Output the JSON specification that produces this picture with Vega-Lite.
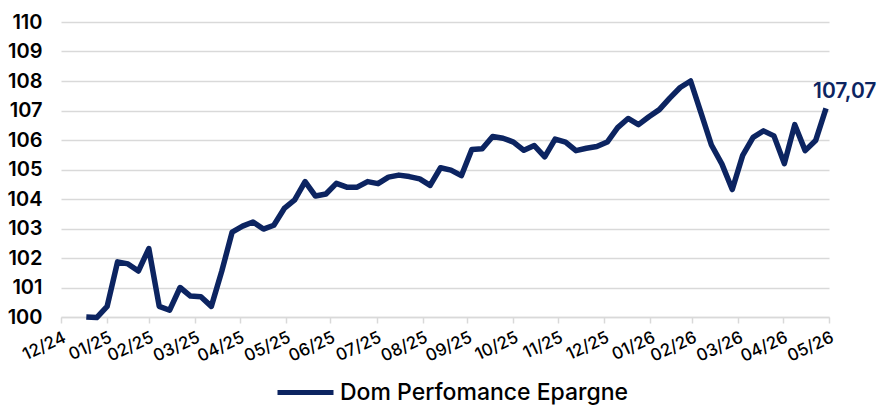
{
  "$schema": "https://vega.github.io/schema/vega-lite/v6.json",
  "width": 768,
  "height": 295,
  "autosize": {"type": "none"},
  "padding": {"left": 61, "top": 22, "right": 50, "bottom": 89},
  "background": "white",
  "config": {
    "view": {"stroke": null},
    "font": "Inter",
    "axis": {"labelFont": "Inter", "labelColor": "#000000"}
  },
  "data": {
    "values": [
      {"date": "2025-01-17", "value": 100.00, "series": "Dom Perfomance Epargne"},
      {"date": "2025-01-24", "value": 99.98, "series": "Dom Perfomance Epargne"},
      {"date": "2025-01-31", "value": 100.36, "series": "Dom Perfomance Epargne"},
      {"date": "2025-02-07", "value": 101.87, "series": "Dom Perfomance Epargne"},
      {"date": "2025-02-14", "value": 101.80, "series": "Dom Perfomance Epargne"},
      {"date": "2025-02-21", "value": 101.56, "series": "Dom Perfomance Epargne"},
      {"date": "2025-02-28", "value": 102.32, "series": "Dom Perfomance Epargne"},
      {"date": "2025-03-07", "value": 100.36, "series": "Dom Perfomance Epargne"},
      {"date": "2025-03-14", "value": 100.23, "series": "Dom Perfomance Epargne"},
      {"date": "2025-03-21", "value": 101.00, "series": "Dom Perfomance Epargne"},
      {"date": "2025-03-28", "value": 100.71, "series": "Dom Perfomance Epargne"},
      {"date": "2025-04-04", "value": 100.69, "series": "Dom Perfomance Epargne"},
      {"date": "2025-04-11", "value": 100.36, "series": "Dom Perfomance Epargne"},
      {"date": "2025-04-18", "value": 101.55, "series": "Dom Perfomance Epargne"},
      {"date": "2025-04-25", "value": 102.88, "series": "Dom Perfomance Epargne"},
      {"date": "2025-05-02", "value": 103.08, "series": "Dom Perfomance Epargne"},
      {"date": "2025-05-09", "value": 103.22, "series": "Dom Perfomance Epargne"},
      {"date": "2025-05-16", "value": 102.98, "series": "Dom Perfomance Epargne"},
      {"date": "2025-05-23", "value": 103.11, "series": "Dom Perfomance Epargne"},
      {"date": "2025-05-30", "value": 103.68, "series": "Dom Perfomance Epargne"},
      {"date": "2025-06-06", "value": 103.97, "series": "Dom Perfomance Epargne"},
      {"date": "2025-06-13", "value": 104.59, "series": "Dom Perfomance Epargne"},
      {"date": "2025-06-20", "value": 104.10, "series": "Dom Perfomance Epargne"},
      {"date": "2025-06-27", "value": 104.17, "series": "Dom Perfomance Epargne"},
      {"date": "2025-07-04", "value": 104.53, "series": "Dom Perfomance Epargne"},
      {"date": "2025-07-11", "value": 104.40, "series": "Dom Perfomance Epargne"},
      {"date": "2025-07-18", "value": 104.40, "series": "Dom Perfomance Epargne"},
      {"date": "2025-07-25", "value": 104.59, "series": "Dom Perfomance Epargne"},
      {"date": "2025-08-01", "value": 104.52, "series": "Dom Perfomance Epargne"},
      {"date": "2025-08-08", "value": 104.74, "series": "Dom Perfomance Epargne"},
      {"date": "2025-08-15", "value": 104.81, "series": "Dom Perfomance Epargne"},
      {"date": "2025-08-22", "value": 104.76, "series": "Dom Perfomance Epargne"},
      {"date": "2025-08-29", "value": 104.68, "series": "Dom Perfomance Epargne"},
      {"date": "2025-09-05", "value": 104.46, "series": "Dom Perfomance Epargne"},
      {"date": "2025-09-12", "value": 105.06, "series": "Dom Perfomance Epargne"},
      {"date": "2025-09-19", "value": 104.98, "series": "Dom Perfomance Epargne"},
      {"date": "2025-09-26", "value": 104.79, "series": "Dom Perfomance Epargne"},
      {"date": "2025-10-03", "value": 105.68, "series": "Dom Perfomance Epargne"},
      {"date": "2025-10-10", "value": 105.70, "series": "Dom Perfomance Epargne"},
      {"date": "2025-10-17", "value": 106.12, "series": "Dom Perfomance Epargne"},
      {"date": "2025-10-24", "value": 106.06, "series": "Dom Perfomance Epargne"},
      {"date": "2025-10-31", "value": 105.93, "series": "Dom Perfomance Epargne"},
      {"date": "2025-11-07", "value": 105.65, "series": "Dom Perfomance Epargne"},
      {"date": "2025-11-14", "value": 105.81, "series": "Dom Perfomance Epargne"},
      {"date": "2025-11-21", "value": 105.43, "series": "Dom Perfomance Epargne"},
      {"date": "2025-11-28", "value": 106.03, "series": "Dom Perfomance Epargne"},
      {"date": "2025-12-05", "value": 105.93, "series": "Dom Perfomance Epargne"},
      {"date": "2025-12-12", "value": 105.64, "series": "Dom Perfomance Epargne"},
      {"date": "2025-12-19", "value": 105.72, "series": "Dom Perfomance Epargne"},
      {"date": "2025-12-26", "value": 105.78, "series": "Dom Perfomance Epargne"},
      {"date": "2026-01-02", "value": 105.93, "series": "Dom Perfomance Epargne"},
      {"date": "2026-01-09", "value": 106.42, "series": "Dom Perfomance Epargne"},
      {"date": "2026-01-16", "value": 106.73, "series": "Dom Perfomance Epargne"},
      {"date": "2026-01-23", "value": 106.52, "series": "Dom Perfomance Epargne"},
      {"date": "2026-01-30", "value": 106.79, "series": "Dom Perfomance Epargne"},
      {"date": "2026-02-06", "value": 107.03, "series": "Dom Perfomance Epargne"},
      {"date": "2026-02-13", "value": 107.42, "series": "Dom Perfomance Epargne"},
      {"date": "2026-02-20", "value": 107.78, "series": "Dom Perfomance Epargne"},
      {"date": "2026-02-27", "value": 108.00, "series": "Dom Perfomance Epargne"},
      {"date": "2026-03-06", "value": 106.92, "series": "Dom Perfomance Epargne"},
      {"date": "2026-03-13", "value": 105.83, "series": "Dom Perfomance Epargne"},
      {"date": "2026-03-20", "value": 105.19, "series": "Dom Perfomance Epargne"},
      {"date": "2026-03-27", "value": 104.32, "series": "Dom Perfomance Epargne"},
      {"date": "2026-04-03", "value": 105.48, "series": "Dom Perfomance Epargne"},
      {"date": "2026-04-10", "value": 106.09, "series": "Dom Perfomance Epargne"},
      {"date": "2026-04-17", "value": 106.31, "series": "Dom Perfomance Epargne"},
      {"date": "2026-04-24", "value": 106.14, "series": "Dom Perfomance Epargne"},
      {"date": "2026-05-01", "value": 105.20, "series": "Dom Perfomance Epargne"},
      {"date": "2026-05-08", "value": 106.52, "series": "Dom Perfomance Epargne"},
      {"date": "2026-05-15", "value": 105.64, "series": "Dom Perfomance Epargne"},
      {"date": "2026-05-22", "value": 105.98, "series": "Dom Perfomance Epargne"},
      {"date": "2026-05-29", "value": 107.07, "series": "Dom Perfomance Epargne", "label": "107,07"}
    ]
  },
  "encoding": {
    "x": {
      "field": "date",
      "type": "temporal",
      "scale": {
        "type": "utc",
        "domain": [
          {"year": 2024, "month": 12, "date": 31, "utc": true},
          {"year": 2026, "month": 5, "date": 31, "utc": true}
        ]
      },
      "axis": {
        "title": null,
        "grid": false,
        "values": [
          {"year": 2024, "month": 12, "date": 31, "utc": true},
          {"year": 2025, "month": 1, "date": 31, "utc": true},
          {"year": 2025, "month": 2, "date": 28, "utc": true},
          {"year": 2025, "month": 3, "date": 31, "utc": true},
          {"year": 2025, "month": 4, "date": 30, "utc": true},
          {"year": 2025, "month": 5, "date": 31, "utc": true},
          {"year": 2025, "month": 6, "date": 30, "utc": true},
          {"year": 2025, "month": 7, "date": 31, "utc": true},
          {"year": 2025, "month": 8, "date": 31, "utc": true},
          {"year": 2025, "month": 9, "date": 30, "utc": true},
          {"year": 2025, "month": 10, "date": 31, "utc": true},
          {"year": 2025, "month": 11, "date": 30, "utc": true},
          {"year": 2025, "month": 12, "date": 31, "utc": true},
          {"year": 2026, "month": 1, "date": 31, "utc": true},
          {"year": 2026, "month": 2, "date": 28, "utc": true},
          {"year": 2026, "month": 3, "date": 31, "utc": true},
          {"year": 2026, "month": 4, "date": 30, "utc": true},
          {"year": 2026, "month": 5, "date": 31, "utc": true}
        ],
        "labelExpr": "utcFormat(datum.value, '%m/%y')",
        "labelAngle": -25,
        "labelAlign": "right",
        "labelBaseline": "top",
        "labelFontSize": 17,
        "labelFontWeight": 500,
        "labelPadding": 6,
        "labelOverlap": false,
        "labelBound": false,
        "labelFlush": false,
        "domainColor": "#d9d9d9",
        "domainWidth": 1.5,
        "tickColor": "#d9d9d9",
        "tickWidth": 1.5,
        "tickSize": 6
      }
    },
    "y": {
      "field": "value",
      "type": "quantitative",
      "scale": {"domain": [100, 110], "nice": false, "zero": false},
      "axis": {
        "title": null,
        "values": [100, 101, 102, 103, 104, 105, 106, 107, 108, 109, 110],
        "domain": false,
        "ticks": false,
        "labelPadding": 19,
        "labelFontSize": 20,
        "labelFontWeight": 600,
        "gridColor": "#d9d9d9",
        "gridWidth": 1.5
      }
    }
  },
  "layer": [
    {
      "mark": {"type": "line", "strokeWidth": 5.5, "strokeJoin": "round", "strokeCap": "butt", "clip": false},
      "encoding": {
        "color": {
          "field": "series",
          "type": "nominal",
          "scale": {"range": ["#0c2461"]},
          "legend": {
            "title": null,
            "orient": "none",
            "legendX": 214,
            "legendY": 340,
            "direction": "horizontal",
            "symbolType": "stroke",
            "symbolSize": 3136,
            "symbolStrokeWidth": 5,
            "labelFontSize": 23,
            "labelFont": "Inter",
            "labelFontWeight": 500,
            "labelColor": "#000000",
            "labelOffset": 4,
            "labelLimit": 400
          }
        }
      }
    },
    {
      "transform": [{"filter": "isValid(datum.label)"}],
      "mark": {"type": "text", "align": "left", "baseline": "bottom", "dx": -13, "dy": -6, "fontSize": 21, "fontWeight": 600, "font": "Inter", "color": "#0c2461"},
      "encoding": {"text": {"field": "label"}}
    }
  ]
}
